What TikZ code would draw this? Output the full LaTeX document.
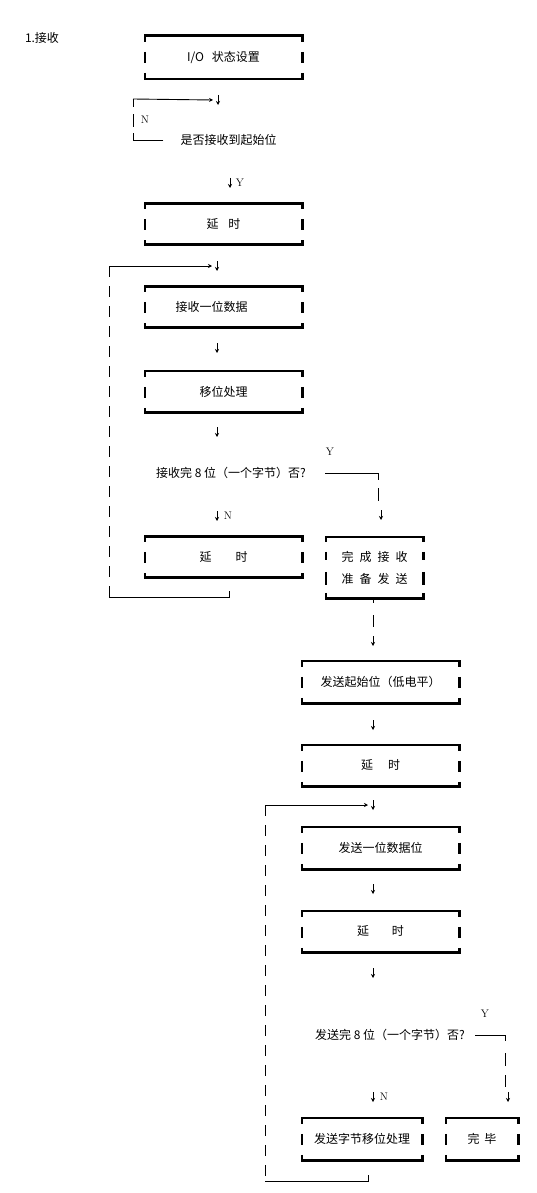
\documentclass[tikz,border=0pt]{standalone}
\usepackage{fontspec}
\newfontfamily\cjk{Noto Sans CJK SC}
\usetikzlibrary{arrows.meta}

% frame of a process box: thick top and bottom, broken sides
\newcommand{\procframe}[2][]{%
  \draw[frame] (#2.north west) -- (#2.north east) (#2.south west) -- (#2.south east);
  \draw[side, #1] (#2.north west) -- (#2.south west) (#2.north east) -- (#2.south east);
}
% the small down arrow mark
\newcommand{\downmark}[1]{%
  \draw[link, arr] ([yshift=5pt]#1) -- ([yshift=-5pt]#1);
}

\tikzset{
  every node/.style={font=\cjk\fontsize{12}{14}\selectfont, inner sep=0pt},
  procbox/.style={minimum width=157pt, minimum height=42pt, align=center},
  yn/.style={font=\rmfamily\fontsize{11}{13}\selectfont},
  frame/.style={line width=2.6pt, line cap=rect},
  side/.style={line width=2.6pt, dash pattern=on 6pt off 10pt on 11pt off 10pt on 6pt},
  link/.style={line width=0.9pt},
  gapline/.style={line width=0.9pt, dash pattern=on 11pt off 9pt},
  arr/.style={-{Stealth[length=4pt,width=4pt]}}
}

\begin{document}
\begin{tikzpicture}[x=1pt, y=-1pt]
    \useasboundingbox (0,0) rectangle (536,1193);
    \fill[white] (0,0) rectangle (536,1193);

    \node (title) at (42,38) {1.接收};

    % receiving part
    \node[procbox, minimum height=43pt] (b1) at (223.5,57.5) {I/O\hspace{8pt}状态设置};
    \node (q1) at (228.5,140) {是否接收到起始位};
    \node[procbox, minimum height=41pt] (b2) at (223.5,224) {延\hspace{10pt}时};
    \node[procbox, minimum height=41pt] (b3) at (223.5,307) {接收一位数据\hspace{24pt}};
    \node[procbox, minimum height=41pt] (b4) at (223.5,391.5) {移位处理};
    \node (q2) at (231,473) {接收完 8 位（一个字节）否?};
    \node[procbox, minimum height=41pt] (b5) at (223.5,557) {延\hspace{24pt}时};
    \node[procbox, minimum width=97pt, minimum height=61pt,
          font=\cjk\fontsize{12}{22}\selectfont] (b6) at (374.5,567.5)
        {完\hspace{6pt}成\hspace{6pt}接\hspace{6pt}收\\准\hspace{6pt}备\hspace{6pt}发\hspace{6pt}送};

    % sending part
    \node[procbox] (b7) at (380.5,682) {发送起始位（低电平）};
    \node[procbox, minimum height=41pt] (b8) at (380.5,765.5) {延\hspace{15pt}时};
    \node[procbox] (b9) at (380.5,848) {发送一位数据位};
    \node[procbox, minimum height=41pt] (b10) at (380.5,931.5) {延\hspace{23pt}时};
    \node (q3) at (390,1035) {发送完 8 位（一个字节）否?};
    \node[procbox, minimum width=120pt] (b11) at (362,1139) {发送字节移位处理};
    \node[procbox, minimum width=72pt] (b12) at (482,1139) {完\hspace{5pt}毕};

    \foreach \b in {b1,b2,b3,b4,b5,b7,b8,b9,b10,b11,b12} {\procframe{\b}}
    \procframe[dash pattern=on 5pt off 10pt on 8pt off 12pt on 13pt off 8pt on 5pt]{b6}

    % Y / N labels
    \node[yn] (n1) at (145,120) {N};
    \node[yn] (y1) at (240,183) {Y};
    \node[yn] (y2) at (330,452) {Y};
    \node[yn] (n2) at (228,516) {N};
    \node[yn] (y3) at (485,1014) {Y};
    \node[yn] (n3) at (384,1097) {N};

    % down arrow marks
    \coordinate (d1) at (218,100);
    \coordinate (d2) at (230,183);
    \coordinate (d3) at (217,266);
    \coordinate (d4) at (217,348);
    \coordinate (d5) at (217,432);
    \coordinate (d6) at (217,516);
    \coordinate (d7) at (381,515);
    \coordinate (d8) at (373,641);
    \coordinate (d9) at (373,725);
    \coordinate (d10) at (373,805);
    \coordinate (d11) at (373,889);
    \coordinate (d12) at (373,973);
    \coordinate (d13) at (373,1097);
    \coordinate (d14) at (508,1097);
    \foreach \d in {d1,d2,d3,d4,d5,d6,d7,d8,d9,d10,d11,d12,d13,d14} {\downmark{\d}}

    % loop: start bit not received
    \coordinate (r1) at (133,99);
    \draw[link] ([xshift=-17pt]q1.west) -- (r1 |- q1.west);
    \draw[link, dash pattern=on 7pt off 6pt on 13pt off 7pt on 12pt] (r1 |- q1.west) -- (r1);
    \draw[link, arr] (r1) -- ([xshift=-5pt]d1);

    % loop: byte not complete (receive)
    \coordinate (r2) at (109,266);
    \coordinate (e2) at (229,597);
    \draw[link] ([yshift=6pt]e2) -- (e2) -- (r2 |- e2);
    \draw[gapline] (r2) -- (r2 |- e2);
    \draw[link, arr] (r2) -- ([xshift=-5pt]d3);

    % Y branch (receive)
    \coordinate (s1) at (325,473);
    \coordinate (t1) at (378,473);
    \draw[link] (s1) -- (t1);
    \draw[link, dash pattern=on 7pt off 8pt on 13pt off 20pt] (t1) -- ([yshift=6pt]d7 -| t1);
    \draw[link, dash pattern=on 5pt off 12pt on 12pt off 20pt] (b6.south -| d8) -- ([yshift=6pt]d8);

    % loop: byte not complete (send)
    \coordinate (r3) at (265,805);
    \coordinate (e3) at (368,1181);
    \draw[link] ([yshift=6pt]e3) -- (e3) -- (r3 |- e3);
    \draw[gapline] (r3) -- (r3 |- e3);
    \draw[link, arr] (r3) -- ([xshift=-5pt]d10);

    % Y branch (send)
    \coordinate (s3) at (475,1035);
    \coordinate (t3) at (505,1035);
    \draw[link] (s3) -- (t3);
    \draw[link, dash pattern=on 6pt off 12pt on 13pt off 9pt on 12pt off 20pt] (t3) -- ([yshift=6pt]d14 -| t3);
\end{tikzpicture}
\end{document}
